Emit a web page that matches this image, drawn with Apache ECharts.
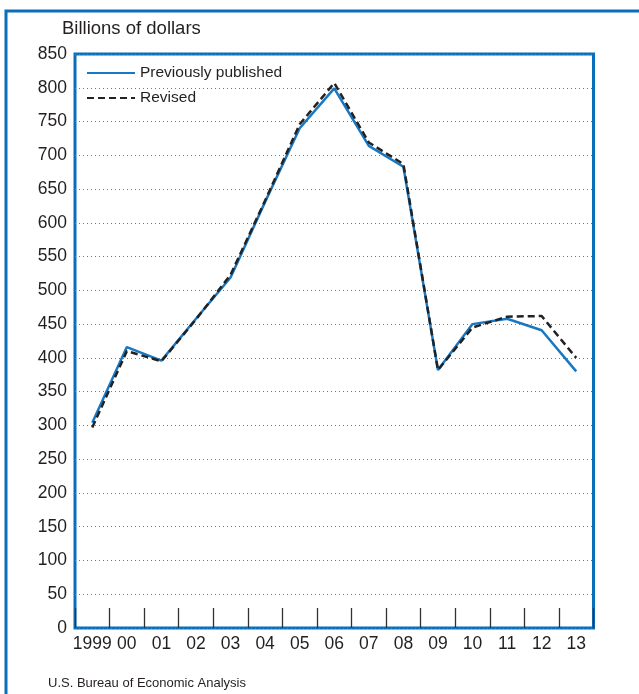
<!DOCTYPE html>
<html>
<head>
<meta charset="utf-8">
<script src="https://cdn.jsdelivr.net/npm/echarts@6/dist/echarts.min.js"></script>
<style>
html,body{margin:0;padding:0;background:#fff;}
#c{width:639px;height:694px;}
</style>
</head>
<body>
<div id="c"></div>
<script>
const years = ['1999','00','01','02','03','04','05','06','07','08','09','10','11','12','13'];
const previouslyPublished = [304, 416, 396, 458, 519, 631, 740, 799, 714, 683, 382, 450, 458, 441, 380];
const revised = [297, 410, 395, 457, 523, 633, 746, 807, 719, 687, 382, 445, 461, 462, 400];
const yTicks = {min: 0, max: 850, interval: 50};

const FONT = '"Liberation Sans", Arial, sans-serif';
const BLUE = '#0a6fba';
const TEXT = '#231f20';

const chart = echarts.init(document.getElementById('c'), null, {renderer: 'canvas'});
chart.setOption({
  animation: false,
  backgroundColor: '#fff',
  textStyle: {fontFamily: FONT, color: TEXT},
  graphic: [
    {type: 'rect', shape: {x: 6, y: 11, width: 720, height: 800}, style: {fill: 'none', stroke: BLUE, lineWidth: 3}, z: 0},
    {type: 'text', left: 62, top: 19, style: {text: 'Billions of dollars', font: '18.5px ' + FONT, fill: TEXT}},
    {type: 'text', left: 48, top: 677, style: {text: 'U.S. Bureau of Economic Analysis', font: '13px ' + FONT, fill: TEXT}}
  ],
  legend: {
    orient: 'vertical',
    left: 81,
    top: 60,
    itemWidth: 48,
    itemHeight: 14,
    itemGap: 9,
    itemStyle: {opacity: 0},
    textStyle: {fontFamily: FONT, fontSize: 15.5, color: TEXT},
    data: ['Previously published', 'Revised']
  },
  grid: {
    left: 75, top: 54, width: 518.5, height: 574,
    show: true, borderColor: BLUE, borderWidth: 3, backgroundColor: 'transparent',
    containLabel: false
  },
  xAxis: {
    type: 'category',
    data: years,
    boundaryGap: true,
    axisLine: {show: false},
    axisTick: {show: true, inside: true, length: 20, lineStyle: {color: '#333', width: 1.3}},
    axisLabel: {fontFamily: FONT, fontSize: 17.5, color: TEXT, margin: 7, interval: 0},
    splitLine: {show: false}
  },
  yAxis: {
    type: 'value',
    min: yTicks.min, max: yTicks.max, interval: yTicks.interval,
    axisLine: {show: false},
    axisTick: {show: false},
    axisLabel: {fontFamily: FONT, fontSize: 17.5, color: TEXT, margin: 8,
      showMinLabel: true, showMaxLabel: true},
    splitLine: {show: true, lineStyle: {color: '#777', type: [1, 3], width: 1}}
  },
  series: [
    {
      name: 'Previously published', type: 'line', data: previouslyPublished,
      symbol: 'none', z: 3,
      lineStyle: {color: '#1778c4', width: 2.5, type: 'solid'},
      itemStyle: {color: '#1778c4'}
    },
    {
      name: 'Revised', type: 'line', data: revised,
      symbol: 'none', z: 4,
      lineStyle: {color: '#222', width: 2.5, type: [7, 4]},
      itemStyle: {color: '#222'}
    }
  ]
});
</script>
</body>
</html>
